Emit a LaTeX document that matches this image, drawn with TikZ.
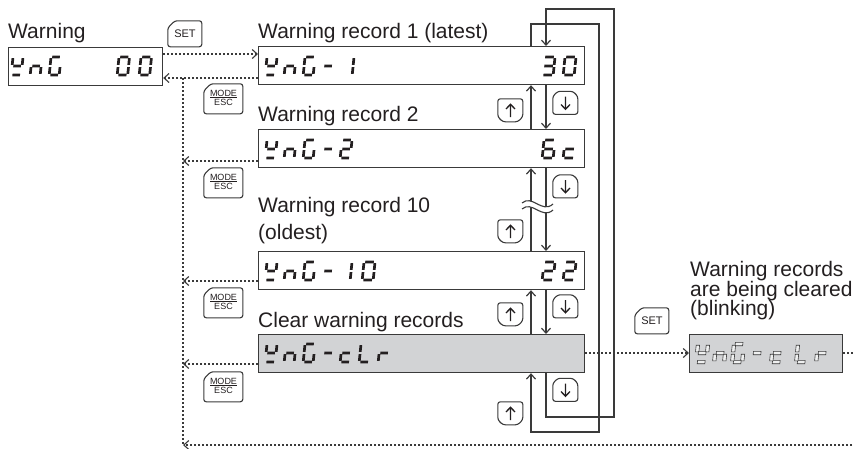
\documentclass[tikz,border=0pt]{standalone}
\usepackage{fontspec}
\setmainfont{Liberation Sans}
\usetikzlibrary{arrows.meta}
\definecolor{ink}{HTML}{3A3A3A}
\definecolor{txt}{HTML}{231F20}
\definecolor{fillg}{HTML}{D2D3D5}

% seven-segment glyphs
\def\seggap{1.2}
\def\segt{1.35}
\def\segw{10}
\def\sega{{\seggap,-\segt}{\segw-\seggap,\segt}}
\def\segb{{\segw-\segt,\seggap}{\segw+\segt,9-\seggap}}
\def\segc{{\segw-\segt,9+\seggap}{\segw+\segt,18-\seggap}}
\def\segd{{\seggap,18-\segt}{\segw-\seggap,18+\segt}}
\def\sege{{-\segt,9+\seggap}{\segt,18-\seggap}}
\def\segf{{-\segt,\seggap}{\segt,9-\seggap}}
\def\segg{{\seggap,9-\segt}{\segw-\seggap,9+\segt}}
\newcommand\segdraw[2]{\path[segline] (#1) rectangle (#2);}
\newcommand\sseg[4][10]{%
  \begin{scope}[shift={(#2,#3)},xslant=0.1]
    \def\segw{#1}%
    \foreach \s in {#4}{\expandafter\expandafter\expandafter\segdraw\csname seg\s\endcsname}%
  \end{scope}}

% keys
\newcommand\setkey[3]{%
  \node[keytxt,minimum width=34pt,minimum height=26pt,font=\fontsize{11}{12}\selectfont] (#1) at (#2,#3) {SET};
  \draw[keyline,shift={(#1.north west)}] (3.5,3.5) -- (7,0) -- (34,0) -- (34,26) -- (0,26) -- (0,7) -- cycle;}
\newcommand\modekey[3]{%
  \node[keytxt,minimum width=39pt,minimum height=30pt,font=\fontsize{9}{9.5}\selectfont] (#1) at (#2,#3)
    {\begin{tabular}{@{}c@{}}MODE\\[-2pt]\hline\noalign{\vskip1pt}ESC\end{tabular}};
  \draw[keyline,shift={(#1.north west)}] (3.5,3.5) -- (7,0) -- (39,0) -- (39,30) -- (0,30) -- (0,7) -- cycle;}
\newcommand\upkey[3]{%
  \node[keytxt,minimum width=25pt,minimum height=23pt] (#1) at (#2,#3) {};
  \draw[keyline,shift={(#1.north west)}] (0,11.5) -- (0,0) -- (25,0) -- (25,18) -- (20,23) -- (5,23) -- (0,18) -- cycle;
  \draw[arrline,shift={(#1.center)}] (0,6.5) -- (0,-6) (-4.5,-1.5) -- (0,-6.3) -- (4.5,-1.5);}
\newcommand\downkey[3]{%
  \node[keytxt,minimum width=25pt,minimum height=23pt] (#1) at (#2,#3) {};
  \draw[keyline,shift={(#1.north west)}] (0,11.5) -- (0,5) -- (5,0) -- (20,0) -- (25,5) -- (25,23) -- (0,23) -- cycle;
  \draw[arrline,shift={(#1.center)}] (0,-6.5) -- (0,6) (-4.5,1.5) -- (0,6.3) -- (4.5,1.5);}

\begin{document}
\begin{tikzpicture}[x=1pt,y=-1pt,
  lbl/.style={anchor=base west,inner sep=0pt,text=txt,font=\fontsize{21}{24}\selectfont},
  disp/.style={draw=ink,line width=1.2pt,anchor=north west,inner sep=0pt,minimum height=38pt},
  keytxt/.style={inner sep=0pt,text=txt},
  keyline/.style={draw=ink,line width=1.1pt,rounded corners=2.5pt},
  arrline/.style={draw=txt,line width=1.3pt},
  segline/.style={fill=txt},
  conn/.style={draw=ink,line width=1.2pt},
  dots/.style={draw=ink,line width=1.1pt,dash pattern=on 2pt off 2pt},
  tip/.style={-{Straight Barb[length=5pt,width=9pt]}}]
\useasboundingbox (0,0) rectangle (854,448);

% labels
\node[lbl] (tw) at (8,38) {Warning};
\node[lbl] (t1) at (258,38) {Warning record 1 (latest)};
\node[lbl] (t2) at (258,121) {Warning record 2};
\node[lbl] (t10) at (258,212) {Warning record 10};
\node[lbl] (t10b) at (258,239) {(oldest)};
\node[lbl] (tc) at (258,327) {Clear warning records};
\node[lbl] (tb1) at (690,276) {Warning records};
\node[lbl] (tb2) at (690,296) {are being cleared};
\node[lbl] (tb3) at (690,315) {(blinking)};

% displays
\node[disp,minimum width=154pt] (warn) at (8,47) {};
\node[disp,minimum width=326pt] (r1) at (258,46) {};
\node[disp,minimum width=326pt] (r2) at (258,129) {};
\node[disp,minimum width=326pt] (r10) at (258,251) {};
\node[disp,minimum width=326pt,fill=fillg] (clr) at (258,334) {};
\node[disp,minimum width=153pt,fill=fillg] (blink) at (689,334) {};

% glyphs: warning
\sseg{13}{57}{b,d,f,g}
\sseg{32}{57}{c,e,g}
\sseg{51}{57}{a,c,d,e,f}
\sseg[10.5]{119}{57}{a,b,c,d,e,f}
\sseg[10.5]{141}{57}{a,b,c,d,e,f}
% record 1
\sseg{267}{57}{b,d,f,g}
\sseg{286}{57}{c,e,g}
\sseg{305}{57}{a,c,d,e,f}
\sseg{324}{57}{g}
\sseg[11]{343}{57}{b,c}
\sseg[11]{544}{57}{a,b,c,d,g}
\sseg[11]{565}{57}{a,b,c,d,e,f}
% record 2
\sseg{267}{140}{b,d,f,g}
\sseg{286}{140}{c,e,g}
\sseg{305}{140}{a,c,d,e,f}
\sseg{324}{140}{g}
\sseg{342}{140}{a,b,d,e,g}
\sseg[11]{544}{140}{a,c,d,e,f,g}
\sseg[11]{565}{140}{d,e,g}
% record 10
\sseg{267}{262}{b,d,f,g}
\sseg{286}{262}{c,e,g}
\sseg{305}{262}{a,c,d,e,f}
\sseg{324}{262}{g}
\sseg{342}{262}{b,c}
\sseg[11]{364}{262}{a,b,c,d,e,f}
\sseg[11]{544}{262}{a,b,d,e,g}
\sseg[11]{565}{262}{a,b,d,e,g}
% clear
\sseg{267}{344}{b,d,f,g}
\sseg{286}{344}{c,e,g}
\sseg{305}{344}{a,c,d,e,f}
\sseg{324}{344}{g}
\sseg{342}{344}{d,e,g}
\sseg{361}{344}{d,e,f}
\sseg{380}{344}{e,g}
% blinking
\begin{scope}
\tikzset{segline/.style={fill=fillg!35!white,draw=ink,line width=0.6pt}}
\def\segt{1.7}
\sseg{698}{344}{b,d,f,g}
\sseg{716}{344}{c,e,g}
\sseg{734}{344}{a,c,d,e,f}
\sseg{753}{344}{g}
\sseg{773}{344}{d,e,g}
\sseg{798}{344}{d,e,f}
\sseg{818}{344}{e,g}
\end{scope}

% keys
\setkey{set1}{185}{34}
\setkey{set2}{652}{321}
\modekey{m1}{223.5}{99}
\modekey{m2}{223.5}{183}
\modekey{m3}{223.5}{303}
\modekey{m4}{223.5}{387}
\upkey{u1}{510.5}{110.5}
\upkey{u2}{510.5}{231.5}
\upkey{u3}{510.5}{314.5}
\upkey{u4}{510.5}{413.5}
\downkey{d1}{565.5}{103}
\downkey{d2}{565.5}{186.5}
\downkey{d3}{565.5}{306.5}
\downkey{d4}{565.5}{390}

% solid connectors
\coordinate (upx) at (531,0);
\coordinate (dnx) at (546,0);
\coordinate (la) at (614,9);
\coordinate (lb) at (599,24);
\coordinate (lc) at (546,417);
\coordinate (ld) at (531,432);
\draw[conn,tip] (r2.north -| upx) -- (r1.south -| upx);
\draw[conn,tip] (r10.north -| upx) -- (r2.south -| upx);
\draw[conn,tip] (clr.north -| upx) -- (r10.south -| upx);
\draw[conn,tip] (r1.south -| dnx) -- (r2.north -| dnx);
\draw[conn,tip] (r2.south -| dnx) -- (r10.north -| dnx);
\draw[conn,tip] (r10.south -| dnx) -- (clr.north -| dnx);
\draw[conn,tip] (clr.south -| dnx) |- (la |- lc) -- (la) -| (r1.north -| dnx);
\draw[conn,tip] (r1.north -| upx) |- (lb) -- (lb |- ld) -| (clr.south -| upx);

% break mark
\fill[white] (522,203) .. controls (532,194) and (542,214) .. (553,204) -- (553,210) .. controls (542,220) and (532,200) .. (522,209) -- cycle;
\draw[ink,line width=1.1pt] (522,203) .. controls (532,194) and (542,214) .. (553,204);
\draw[ink,line width=1.1pt] (522,209) .. controls (532,200) and (542,220) .. (553,210);

% dotted connectors
\coordinate (vl) at (183,0);
\coordinate (bend) at (860,445);
\coordinate (rend) at (860,353);
\draw[dots,tip] (warn.east |- 0,54) -- (r1.west |- 0,54);
\draw[dots,tip] (r1.west |- 0,78) -- (warn.east |- 0,78);
\draw[dots] (vl |- 0,78) -- (vl |- 0,445);
\draw[dots,tip] (r2.west |- 0,161) -- (vl |- 0,161);
\draw[dots,tip] (r10.west |- 0,281) -- (vl |- 0,281);
\draw[dots,tip] (clr.west |- 0,364) -- (vl |- 0,364);
\draw[dots,tip] (bend) -- (vl |- bend);
\draw[dots,tip] (clr.east |- 0,353) -- (blink.west |- 0,353);
\draw[dots] (blink.east |- 0,353) -- (rend);
\end{tikzpicture}
\end{document}
